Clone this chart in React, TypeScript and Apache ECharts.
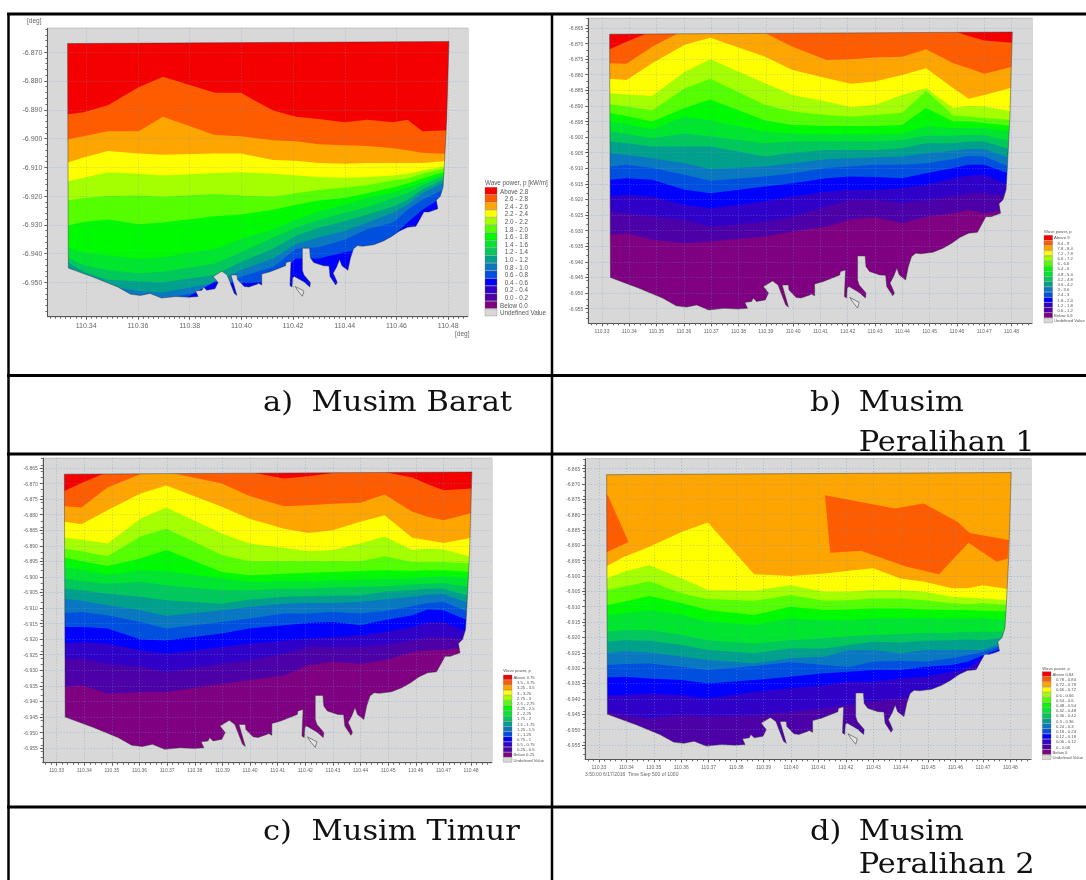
import React, { useEffect, useRef } from "react";
import * as echarts from "echarts";

// Shared longitudes of the contour nodes
const lonNodes = [110.3328,110.339,110.3484,110.3603,110.3697,110.3898,110.3998,110.4123,110.4211,110.4299,110.4399,110.4487,110.4587,110.4643,110.47,110.4803];
const lonNodesD = [110.3328,110.339,110.3484,110.3603,110.3697,110.3866,110.3998,110.4123,110.4211,110.4299,110.4399,110.4487,110.4587,110.4643,110.47,110.4803];

// Contour boundaries. Values are millidegrees south of -6 (lat = -6 - v / 1000)
const boundariesA = [
[891.6,890.9,888.4,882.2,878.5,884.1,884.1,890.3,892.4,893.2,894.3,893.5,894.3,893.5,897.5,897.1],
[900.3,899.2,897.5,897.5,892.4,898.8,899.2,900.6,900.9,902,902.3,902.6,903.4,904.1,904.9,905.4],
[908.3,906.6,904.3,905.2,905.6,905.2,905.2,907.5,907.7,908.5,908.8,908.5,908.5,908.5,908.5,907.7],
[914.8,913.6,911.7,912.2,912.8,912,911.7,912.2,912.8,913.4,913.6,913.4,912.8,912.2,911.1,909.4],
[921.5,920.7,920,919.8,920.2,919.3,919.8,920.2,919,917.9,917,916.2,914.5,913.9,912.2,910],
[930.2,929,928.1,929.8,929.2,927,926.4,924.7,923,921.5,920.7,919,917,915.6,913.9,911.1],
[937.8,939.7,940.6,941.7,941.2,938.3,934.9,931.5,928.1,925.3,923,920.7,918.8,917,915.1,911.7],
[941.2,944,945.7,946.8,946.3,943.4,939.5,934.4,931,928.3,925.8,923.8,920.7,919,916.2,912.2],
[942.9,946.3,949.1,949.7,949.9,947.4,942.9,938.3,933.8,931,928.7,926.4,923.6,921.3,917.7,913.4],
[944.6,948,951.2,953,953.5,950.2,945.7,941.7,936.6,934.4,932.1,929.2,925.8,923,919,914.5],
[947.4,950.2,955,955.5,955.5,952.5,948,944.6,938.3,937.8,935.2,931.5,929.2,924.7,921.3,916.8],
[954.2,954.2,956.5,959.9,959.9,949.7,950.2,949.7,941.7,941.7,939.5,938.3,933.8,929.2,924.7,919],
[962,962,962,962,962,962,962,962,950.8,962,962,962,962,962,962,962],
];
const boundariesB = [
[871.8,869.4,866,866,866,866,866,866,866,866,866,866,866,867.6,869,869.7],
[876.3,876.5,871,865.6,865.6,866.7,871,875.3,875,874.5,874.2,871.8,876.3,877.9,879.7,877.4],
[881.3,881.7,876.3,870.4,868.1,874.2,878.5,881.1,882.9,882.2,880.1,877.9,884.3,887.7,886.5,884.1],
[885.9,886.3,886.8,879,875,882.7,886.5,888.6,890.4,889.7,886.5,884.3,890.7,890,890.2,891.8],
[889.5,890.2,891.5,884.3,881.3,889.7,891.8,892.9,893.4,892.9,892.3,885.1,893.1,893.4,893.9,894.5],
[892.3,893.2,895,890.7,887.9,894.7,896.1,896.4,896.4,896.4,896.1,890.7,895,895,895.5,896.4],
[895,895.8,897.5,893.4,894.7,898.2,898.8,899.1,899.1,899,898.8,896.4,897.1,897.1,897.1,898.2],
[898.2,899,900.4,898.8,899.8,902,901.4,901.4,901.4,901.4,900.9,899.6,899.6,899.3,899.3,901.4],
[901.4,902,903,903,903,906.2,905,904.1,904.1,904.1,903.6,902,902,901.4,901.4,904.1],
[905.2,905.7,906.8,908.4,910.3,909.4,908.4,907.1,906.8,906.5,906.2,905.2,904.4,903.8,903.8,907.1],
[909.4,908.9,909.9,912.1,914,912.6,911.6,909.9,909.4,908.9,908.9,908.4,907.1,906,906.2,909.9],
[913.7,913.2,913.7,916.9,918,915.8,914.8,913.2,912.6,912.8,913.2,911.6,909.9,908.9,908.9,912.1],
[919,918.5,919,921.7,922.8,920.6,919,917.4,916.9,916.9,916.4,915.3,913.2,912.4,912.1,915.8],
[923.9,924.4,925.5,926.5,928.7,927.1,925.5,922.2,920.1,920.1,921.2,920.1,919,918,918,919],
[931.3,930.8,932.9,934,933.5,931.9,930.3,928.7,926.5,925.7,927.6,925.5,924.4,923.3,924.4,923.3],
];
const boundariesC = [
[872.4,869.8,866.3,866.3,866.3,866.3,866.3,868.4,867.7,866.6,866.3,866.3,868.1,870.2,872.2,871.6],
[877.3,877.7,871.3,867,866.3,870,874,877.3,877,876.5,876.2,873.5,879.1,880.7,881.8,879.5],
[882.3,883.1,878.6,873.2,870.6,877.5,881.3,884.5,885.9,885,882.3,880.2,887.4,888.2,889.1,887.4],
[887.4,888,889.3,881.3,877.7,886.1,889.3,890.6,891.8,891.4,889.3,887,891.4,890.9,891.2,893.6],
[890.9,891.8,893.4,887,884.5,893,895,895,895,895,895,893.4,895.2,895.2,895.2,895.7],
[893.8,895,896.5,894.1,891.4,898.4,899.5,899,898.7,898.4,898.1,897.9,898.1,897.9,897.9,898.4],
[896.8,897.7,899.2,897.9,898.1,900.6,901.6,901.3,901.3,901.1,900.9,900.6,900.6,900,899.8,900.6],
[900.6,901.3,902.2,901.6,902.7,904.3,904.3,903.8,903.8,903.4,903.2,903,902.4,902.2,902,903.4],
[903.8,904.3,905.4,906.4,907.5,908.6,907.3,906.4,906.2,906.1,905.9,904.8,904.3,903.8,903.8,906.4],
[907,907.7,909.1,910.7,912.6,910.7,909.7,908.6,908.4,908.4,908,907.3,906.4,905.7,905.6,908.8],
[911.6,911.3,912.3,914.5,916.6,914.5,913.4,911.8,911.8,911.3,911.8,911,909.4,908.4,908,911.8],
[916.1,916.1,916.6,920.1,920.4,918.2,916.6,915.5,914.8,914.5,915.5,913.9,912.3,910.5,910.7,914.5],
[921.4,920.9,921.4,923.6,924.6,922.5,921.4,920.4,919.8,919.3,918.8,917.7,916.1,914.5,914.5,918.2],
[926.3,926.3,927.9,928.9,930.5,927.9,926.8,924.6,922.5,922.5,922.5,922,920.4,919.3,919.3,920.4],
[935.4,934.8,937.5,937,937,934.3,933.2,931.6,928.4,927.3,927.9,926.8,924.1,923.6,923.4,922.5],
];
const boundariesD = [
[896.8,893.8,890.5,885.6,882.6,899.4,900,899.2,898.3,897.5,900.8,901.9,904,904,903,904.4],
[900.8,898.6,896.5,900.8,904.6,904.8,903,905.1,905.1,904.6,904.6,905.1,906.8,907,907.3,907.9],
[904.6,903.5,901.7,905.7,907.5,908.1,906.2,908.1,907.9,907.3,907.3,907.9,908.9,909.2,908.9,909.5],
[909.5,908.4,906.5,908.9,911.1,912.7,910,911.1,910.9,910.6,910.6,910.9,911.1,911.1,911.3,911.6],
[912.7,912.2,911.1,912.7,914.9,916,913.8,914.4,914.4,913.8,913.8,913.8,913.8,913.8,913.8,914.4],
[918.2,917.6,917.6,919.2,920.9,922,920.9,920.3,919.6,919.2,918.9,918.5,918.5,918.2,918.2,918.2],
[921.4,920.9,921.1,922.5,924.1,925.2,923.6,923.6,922.5,921.4,921.7,921.1,920.9,920.7,920.9,919.8],
[925.2,924.5,924.9,926.3,927.4,928.5,926.8,926.3,924.1,924.1,925.2,924.1,924.1,924.1,924.1,920.9],
[929,928.7,928.5,929.6,930.6,929.3,928.1,929,929.6,927.9,927.6,927.9,926.8,925.8,924.7,921.7],
[933.1,932.8,933.4,933.9,935,933.9,932.8,931.7,931.2,930.6,930.6,929.6,929,927.9,925.8,922.5],
[938.8,938.8,938.2,938.8,939.9,937.7,936.6,935.5,934.4,934.4,933.4,932.8,931.2,930.1,926.8,923],
[944.2,945.3,946.4,945.3,945.8,945.3,944.2,943.1,942,940.9,939.9,938.2,935,932.8,929.6,924.1],
];
// Higher-value patches of panel d, as [lon, millidegrees south of -6]
const patchesD = [
  [[110.3325,873],[110.3335,874.2],[110.3408,888.9],[110.3337,891.9],[110.3325,892.5]],
  [[110.4124,873.7],[110.4378,878],[110.4484,876.4],[110.4608,882.4],[110.4651,886],[110.4794,888.3],[110.479,894.3],[110.475,895.4],[110.4647,889.2],[110.454,899.4],[110.4422,897],[110.4255,891.8],[110.4143,892.4]],
];
// Domain outline, clockwise from the north-west corner
const coast = [
[110.3328,-6.867],[110.4803,-6.8663],[110.4794,-6.8934],[110.4785,-6.9094],[110.478,-6.9169],[110.4769,-6.9201],[110.4754,-6.9214],[110.476,-6.9244],[110.4725,-6.9255],[110.4706,-6.9255],[110.4693,-6.9276],[110.4675,-6.9305],[110.4643,-6.9308],[110.4612,-6.9321],[110.4581,-6.934],[110.4549,-6.9356],[110.4512,-6.9369],[110.4468,-6.9374],[110.4449,-6.9372],[110.4434,-6.9383],[110.4422,-6.9415],[110.4412,-6.9458],[110.4389,-6.9442],[110.438,-6.942],[110.4368,-6.9447],[110.4355,-6.9468],[110.4361,-6.9479],[110.4371,-6.95],[110.4365,-6.9509],[110.4343,-6.9479],[110.4339,-6.9443],[110.4318,-6.9442],[110.428,-6.9431],[110.4267,-6.9415],[110.4264,-6.9381],[110.4236,-6.9381],[110.4236,-6.9458],[110.4242,-6.9474],[110.4267,-6.95],[110.4265,-6.9516],[110.4242,-6.9498],[110.4205,-6.9479],[110.4198,-6.9484],[110.4196,-6.9516],[110.4188,-6.9511],[110.4192,-6.9426],[110.4173,-6.9431],[110.4171,-6.9442],[110.4111,-6.9463],[110.4079,-6.9471],[110.4079,-6.9509],[110.4067,-6.9503],[110.4061,-6.9506],[110.4029,-6.9516],[110.4011,-6.9514],[110.3985,-6.949],[110.3983,-6.9474],[110.396,-6.9474],[110.3983,-6.9545],[110.3973,-6.9538],[110.3945,-6.9474],[110.3925,-6.9461],[110.3891,-6.9479],[110.391,-6.95],[110.3898,-6.9522],[110.3866,-6.9527],[110.3854,-6.9516],[110.3848,-6.9527],[110.3823,-6.953],[110.3833,-6.9549],[110.3797,-6.9551],[110.3747,-6.9549],[110.3691,-6.9554],[110.3647,-6.9538],[110.361,-6.9545],[110.3572,-6.9541],[110.3522,-6.9516],[110.3434,-6.9484],[110.3331,-6.945],
];
const island = [[110.4208,-6.9514],[110.4242,-6.953],[110.4236,-6.9548],[110.4217,-6.9527]];

const xTicksA = [110.34,110.36,110.38,110.40,110.42,110.44,110.46,110.48];
const xTicksOther = [110.33,110.34,110.35,110.36,110.37,110.38,110.39,110.40,110.41,110.42,110.43,110.44,110.45,110.46,110.47,110.48];
const yTicksA = [-6.87,-6.88,-6.89,-6.90,-6.91,-6.92,-6.93,-6.94,-6.95];
const yTicksOther = [-6.865,-6.87,-6.875,-6.88,-6.885,-6.89,-6.895,-6.90,-6.905,-6.91,-6.915,-6.92,-6.925,-6.93,-6.935,-6.94,-6.945,-6.95,-6.955];

const legendA = ["Above 2.8","2.6 - 2.8","2.4 - 2.6","2.2 - 2.4","2.0 - 2.2","1.8 - 2.0","1.6 - 1.8","1.4 - 1.6","1.2 - 1.4","1.0 - 1.2","0.8 - 1.0","0.6 - 0.8","0.4 - 0.6","0.2 - 0.4","0.0 - 0.2","Below 0.0","Undefined Value"];
const legendB = ["Above 9","8.4 - 9","7.8 - 8.4","7.2 - 7.8","6.6 - 7.2","6 - 6.6","5.4 - 6","4.8 - 5.4","4.2 - 4.8","3.6 - 4.2","3 - 3.6","2.4 - 3","1.8 - 2.4","1.2 - 1.8","0.6 - 1.2","Below 0.6","Undefined Value"];
const legendC = ["Above 3.75","3.5 - 3.75","3.25 - 3.5","3 - 3.25","2.75 - 3","2.5 - 2.75","2.25 - 2.5","2 - 2.25","1.75 - 2","1.5 - 1.75","1.25 - 1.5","1 - 1.25","0.75 - 1","0.5 - 0.75","0.25 - 0.5","Below 0.25","Undefined Value"];
const legendD = ["Above 0.84","0.78 - 0.84","0.72 - 0.78","0.66 - 0.72","0.6 - 0.66","0.54 - 0.6","0.48 - 0.54","0.42 - 0.48","0.36 - 0.42","0.3 - 0.36","0.24 - 0.3","0.18 - 0.24","0.12 - 0.18","0.06 - 0.12","0 - 0.06","Below 0","Undefined Value"];

const palette = ["#f50000","#ff5c00","#ffa500","#ffff00","#a5ff00","#55ff00","#00fb00","#00e62e","#00c85a","#00a08c","#0a78c0","#0050e0","#0000ff","#3000c8","#4d00a8","#7f0080"];
const GRAY = "#d8d8d8";
const LAT_A: [number, number] = [-6.9619, -6.8617];
const LAT_O: [number, number] = [-6.9597, -6.8619];
const LON: [number, number] = [110.325, 110.4875];

const panels = [
  { rect: [47.4, 28.3, 420.2, 288.4], lat: LAT_A, lons: lonNodes, rows: boundariesA, first: 1, xTicks: xTicksA, yTicks: yTicksA, xDec: 2, font: 7,
    legend: legendA, legendTitle: "Wave power, p [kW/m]", box: [485, 187.3, 12, 7.6], fs: 6.3, titleY: 182, gap: 3, patches: [] as number[][][] },
  { rect: [588.3, 18.3, 443.7, 305], lat: LAT_O, lons: lonNodes, rows: boundariesB, first: 1, xTicks: xTicksOther, yTicks: yTicksOther, xDec: 2, font: 5,
    legend: legendB, legendTitle: "Wave power, p", box: [1044, 235.3, 8.6, 5.18], fs: 4.2, titleY: 231, gap: 1.5, patches: [] as number[][][] },
  { rect: [42.8, 458.3, 449, 304.4], lat: LAT_O, lons: lonNodes, rows: boundariesC, first: 1, xTicks: xTicksOther, yTicks: yTicksOther, xDec: 2, font: 5,
    legend: legendC, legendTitle: "Wave power, p", box: [503.3, 675, 8.7, 5.16], fs: 4.2, titleY: 670.7, gap: 1.5, patches: [] as number[][][] },
  { rect: [585.2, 459, 445.8, 300.3], lat: LAT_O, lons: lonNodesD, rows: boundariesD, first: 3, xTicks: xTicksOther, yTicks: yTicksOther, xDec: 2, font: 5,
    legend: legendD, legendTitle: "Wave power, p", box: [1042.3, 671.7, 8.7, 5.2], fs: 4.2, titleY: 668, gap: 1.5, patches: patchesD },
];

const FONT = "Liberation Sans";
const SERIF = "DejaVu Serif";
const captions = [
  { t: "a)", x: 263, y: 402 }, { t: "Musim Barat", x: 311.6, y: 402 },
  { t: "b)", x: 810, y: 402 }, { t: "Musim", x: 858.7, y: 402 }, { t: "Peralihan 1", x: 858.7, y: 442 },
  { t: "c)", x: 263, y: 831 }, { t: "Musim Timur", x: 311.6, y: 831 },
  { t: "d)", x: 810, y: 831 }, { t: "Musim", x: 858.7, y: 831 }, { t: "Peralihan 2", x: 858.7, y: 864 },
];
const hLines = [[7, 14, 1086, 14], [7, 375.5, 1086, 375.5], [7, 454, 1086, 454], [7, 807, 1086, 807]];
const vLines = [[8.5, 13, 8.5, 880], [552, 13, 552, 880]];

function range(a: number, b: number, step: number) {
  const out: number[] = [];
  const n = Math.round((b - a) / step);
  for (let i = 0; i <= n; i++) out.push(+(a + i * step).toFixed(4));
  return out;
}

function layersOf(p: any) {
  const layers: { pts: number[][]; fill: string; stroke?: string; lw?: number; op?: number }[] = [];
  const [lat0, lat1] = p.lat;
  const pad = 0.002;
  const toLat = (v: number) => -6 - v / 1000;
  // colour layers stay inside the domain's bounding box; the grey mask covers the rest
  const wl = coast[0][0] - 0.0002, el = lonNodes[lonNodes.length - 1] + 0.0002;
  const tTop = -6.8655;
  const low = [[el, lat0], [wl, lat0]];
  layers.push({ pts: [[wl, tTop], [el, tTop], ...low], fill: palette[p.first - 1] });
  p.rows.forEach((row: number[], k: number) => {
    const top = row.map((v, i) => [p.lons[i], toLat(v)]);
    layers.push({
      pts: [[wl, top[0][1]], ...top, [el, top[top.length - 1][1]], ...low],
      fill: palette[p.first + k],
    });
  });
  p.patches.forEach((pt: number[][]) => {
    layers.push({ pts: pt.map(([a, v]) => [a, toLat(v)]), fill: palette[1] });
  });
  const tl = [LON[0] - pad, lat1 + pad];
  layers.push({
    pts: [tl, ...coast, coast[0], tl, [LON[0] - pad, lat0 - pad], [LON[1] + pad, lat0 - pad], [LON[1] + pad, lat1 + pad]],
    fill: GRAY,
  });
  layers.push({ pts: [...coast, coast[0]], fill: "none", stroke: "#303030", lw: 0.8, op: 0.55 });
  layers.push({ pts: island, fill: "#e6e6e6", stroke: "#666666", lw: 0.8 });
  return layers;
}

function buildOption() {
  const grid: any[] = [], xAxis: any[] = [], yAxis: any[] = [], series: any[] = [], graphic: any[] = [];
  const splitStyle = { color: "rgba(105,150,210,0.42)", width: 1, type: [1, 2] };
  panels.forEach((p, i) => {
    const [left, top, width, height] = p.rect;
    grid.push({ left, top, width, height, show: true, backgroundColor: GRAY, borderColor: "#8a8a8a", borderWidth: 1 });
    const common = { gridIndex: i, type: "value", scale: true, z: 5 };
    xAxis.push({
      ...common, position: "bottom", min: LON[0], max: LON[1],
      axisLine: { onZero: false, lineStyle: { color: "#555" } },
      axisTick: { length: 3, lineStyle: { color: "#555" }, customValues: p.xTicks },
      axisLabel: { customValues: p.xTicks, fontSize: p.font, color: "#666", fontFamily: FONT, margin: 5, formatter: (v: number) => v.toFixed(p.xDec), hideOverlap: false },
      splitLine: { show: true, lineStyle: splitStyle },
    });
    xAxis.push({
      ...common, position: "bottom", min: LON[0], max: LON[1],
      axisLine: { show: false, onZero: false },
      axisTick: { length: 2, lineStyle: { color: "#666" }, customValues: range(110.326, 110.486, 0.002) },
      axisLabel: { show: false }, splitLine: { show: false },
    });
    yAxis.push({
      ...common, position: "left", min: p.lat[0], max: p.lat[1],
      axisLine: { onZero: false, lineStyle: { color: "#555" } },
      axisTick: { length: 3, lineStyle: { color: "#555" }, customValues: p.yTicks },
      axisLabel: { customValues: p.yTicks, fontSize: p.font, color: "#666", fontFamily: FONT, margin: 5, formatter: (v: number) => v.toFixed(3), hideOverlap: false },
      splitLine: { show: true, lineStyle: splitStyle },
    });
    yAxis.push({
      ...common, position: "left", min: p.lat[0], max: p.lat[1],
      axisLine: { show: false, onZero: false },
      axisTick: { length: 2, lineStyle: { color: "#666" }, customValues: range(-6.96, -6.862, 0.002) },
      axisLabel: { show: false }, splitLine: { show: false },
    });
    const layers = layersOf(p);
    series.push({
      type: "custom", xAxisIndex: 2 * i, yAxisIndex: 2 * i, z: 2, silent: true, clip: true,
      data: layers.map((_, k) => [k]),
      renderItem: (params: any, api: any) => {
        const l = layers[params.dataIndex];
        const points = l.pts.map((c) => api.coord(c));
        return {
          type: "polygon",
          shape: { points },
          style: { fill: l.fill, stroke: l.stroke ?? null, lineWidth: l.lw ?? 0, opacity: l.op ?? 1 },
        };
      },
    });
    // legend
    const [bx, by, bw, bh] = p.box;
    graphic.push({ type: "text", x: bx, y: p.titleY, style: { text: p.legendTitle, fontSize: p.fs, fontFamily: FONT, fill: "#555", verticalAlign: "middle" } });
    p.legend.forEach((label, k) => {
      const yy = by + k * bh;
      graphic.push({ type: "rect", shape: { x: bx, y: yy, width: bw, height: bh - 0.5 }, style: { fill: palette[k] ?? GRAY, stroke: "#666", lineWidth: 0.3 } });
      const indent = k === 0 || k >= 15 ? 0 : bw * 0.4;
      graphic.push({ type: "text", x: bx + bw + p.gap + indent, y: yy + bh / 2, style: { text: label, fontSize: p.fs, fontFamily: FONT, fill: "#555", verticalAlign: "middle" } });
    });
  });
  graphic.push({ type: "text", x: 27, y: 20, style: { text: "[deg]", fontSize: 6.5, fontFamily: FONT, fill: "#666", verticalAlign: "middle" } });
  graphic.push({ type: "text", x: 455, y: 333, style: { text: "[deg]", fontSize: 6.5, fontFamily: FONT, fill: "#666", verticalAlign: "middle" } });
  graphic.push({ type: "text", x: 585, y: 774, style: { text: "3:50:00 6/17/2016  Time Step 500 of 1000", fontSize: 5, fontFamily: FONT, fill: "#666", verticalAlign: "middle" } });
  hLines.forEach(([x1, y1, x2, y2]) => graphic.push({ type: "line", shape: { x1, y1, x2, y2 }, style: { stroke: "#000", lineWidth: 3 } }));
  vLines.forEach(([x1, y1, x2, y2]) => graphic.push({ type: "line", shape: { x1, y1, x2, y2 }, style: { stroke: "#000", lineWidth: 2.5 } }));
  captions.forEach((c) => graphic.push({ type: "text", x: c.x, y: c.y, scaleX: 1.13, style: { text: c.t, fontSize: 27, fontFamily: SERIF, fill: "#111", verticalAlign: "middle" } }));
  return { animation: false, backgroundColor: "#fff", grid, xAxis, yAxis, series, graphic };
}

export default function App() {
  const ref = useRef<HTMLDivElement>(null);
  useEffect(() => {
    document.body.style.margin = "0";
    const chart = echarts.init(ref.current!, undefined, { renderer: "svg" });
    chart.setOption(buildOption() as any);
    return () => chart.dispose();
  }, []);
  return <div ref={ref} style={{ position: "absolute", left: 0, top: 0, width: 1086, height: 880, filter: "blur(0.5px)" }} />;
}
